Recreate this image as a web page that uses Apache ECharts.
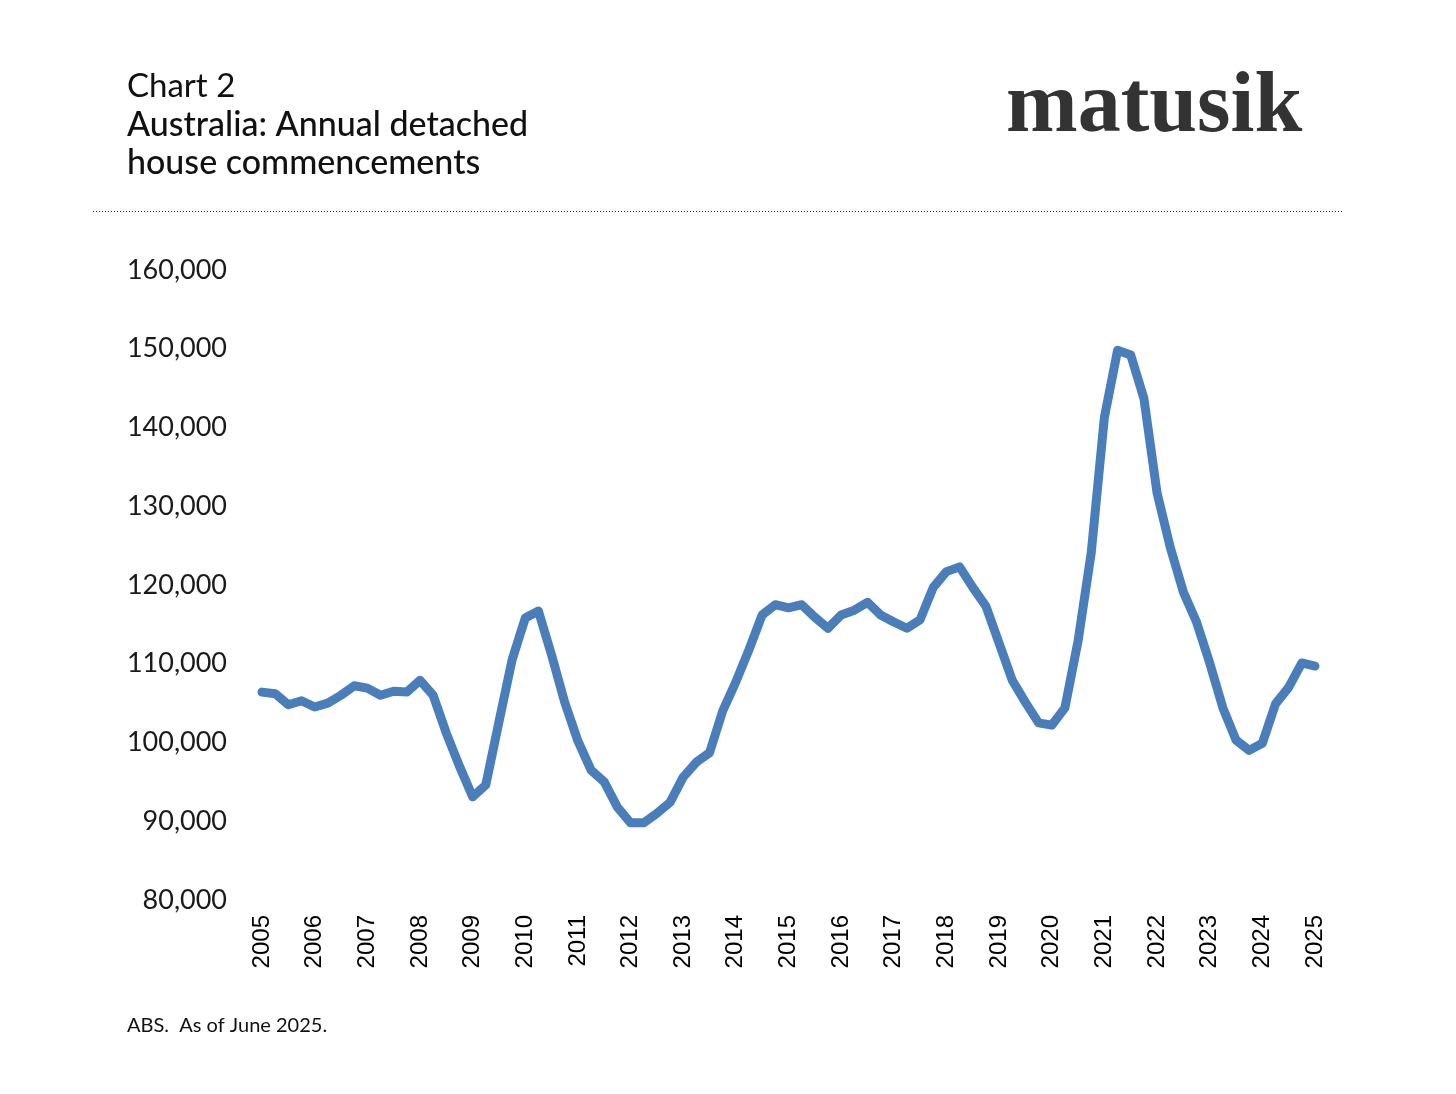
<!DOCTYPE html>
<html>
<head>
<meta charset="utf-8">
<script src="https://cdn.jsdelivr.net/npm/echarts@6/dist/echarts.min.js"></script>
<style>
html,body{margin:0;padding:0;background:#fff;}
#chart{width:1456px;height:1094px;}
</style>
</head>
<body>
<div id="chart"></div>
<script>
// Quarterly periods, 2005 Q1 .. 2025 Q1 (labels shown at each year)
const years = [2005,2006,2007,2008,2009,2010,2011,2012,2013,2014,2015,2016,2017,2018,2019,2020,2021,2022,2023,2024,2025];
const categories = [];
years.forEach((y, i) => {
  const qs = (i === years.length - 1) ? [1] : [1,2,3,4];
  qs.forEach(q => categories.push(y + ' Q' + q));
});
const commencements = [
  106400,106200,104800,105300,104500,105000,106000,107200,
  106900,106000,106500,106400,107900,106000,101200,97000,
  93100,94600,102600,110500,115800,116700,111100,105100,
  100200,96500,95000,91800,89800,89800,91000,92400,
  95600,97500,98700,104000,107700,111800,116200,117500,
  117100,117500,115900,114500,116200,116800,117800,116200,
  115300,114500,115600,119700,121700,122300,119700,117300,
  112600,107900,105100,102500,102200,104400,112900,124100,
  141300,149800,149200,143700,131700,124800,119100,115300,
  110100,104400,100300,99000,99900,104900,107000,110100,
  109700
];
const yTicks = [80000, 90000, 100000, 110000, 120000, 130000, 140000, 150000, 160000];

const chart = echarts.init(document.getElementById('chart'));
chart.setOption({
  backgroundColor: '#ffffff',
  animation: false,
  grid: { left: 262, right: 141, top: 270, bottom: 194, containLabel: false },
  xAxis: {
    type: 'category',
    data: categories,
    boundaryGap: false,
    axisLine: { show: false },
    axisTick: { show: false },
    splitLine: { show: false },
    axisLabel: {
      interval: 3,
      rotate: 90,
      margin: 15,
      fontFamily: 'Liberation Sans, Arial, sans-serif',
      fontSize: 24,
      color: '#000',
      formatter: v => v.split(' ')[0]
    }
  },
  yAxis: {
    type: 'value',
    min: yTicks[0],
    max: yTicks[yTicks.length - 1],
    interval: 10000,
    axisLine: { show: false },
    axisTick: { show: false },
    splitLine: { show: false },
    axisLabel: {
      margin: 35,
      fontFamily: 'Lato, Noto Sans, sans-serif',
      fontSize: 27,
      color: '#1a1a1a',
      formatter: v => v.toLocaleString('en-US')
    }
  },
  series: [{
    type: 'line',
    data: commencements,
    symbol: 'none',
    smooth: false,
    lineStyle: { color: '#4a7ebb', width: 9, cap: 'round', join: 'round' }
  }],
  graphic: [
    { type: 'text', left: 127, top: 70, style: { text: 'Chart 2', font: '33px Lato, "Noto Sans", sans-serif', fill: '#111' } },
    { type: 'text', left: 127, top: 108, style: { text: 'Australia: Annual detached', font: '500 34px Lato, "Noto Sans", sans-serif', fill: '#111' } },
    { type: 'text', left: 127, top: 146, style: { text: 'house commencements', font: '500 34px Lato, "Noto Sans", sans-serif', fill: '#111' } },
    { type: 'text', left: 1006, top: 66, style: { text: 'matusik', font: 'bold 86px "Liberation Serif", "Times New Roman", serif', fill: '#333333' } },
    { type: 'line', shape: { x1: 93, y1: 211.5, x2: 1342, y2: 211.5 }, style: { stroke: '#333', lineWidth: 1, lineDash: [1, 2] } },
    { type: 'text', left: 127, top: 1016, style: { text: 'ABS.  As of June 2025.', font: '20px Lato, "Noto Sans", sans-serif', fill: '#111' } }
  ]
});
</script>
</body>
</html>
